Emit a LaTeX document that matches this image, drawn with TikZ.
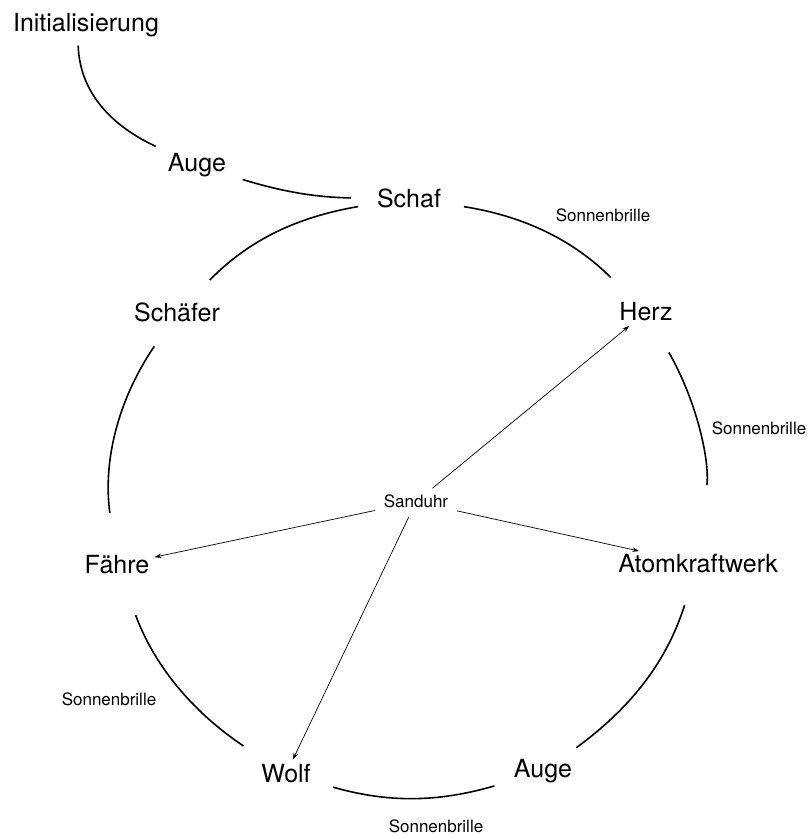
\documentclass[tikz,border=0pt]{standalone}
\usepackage{fontspec}
\setmainfont{TeX Gyre Heros}
\usetikzlibrary{arrows.meta}

\begin{document}
\begin{tikzpicture}[x=1pt, y=1pt,
        state/.style={inner sep=3pt, anchor=base, font=\fontsize{25}{30}\selectfont},
        note/.style={inner sep=0pt, anchor=base, font=\fontsize{17}{20}\selectfont},
        link/.style={line width=1.6pt},
        ptr/.style={-{Stealth[length=7pt,width=4.5pt]}, line width=0.7pt, shorten <=6pt, shorten >=2pt}
    ]
        \useasboundingbox (0,0) rectangle (811,836);

        \node[state] (init) at (86,804) {Initialisierung};
        \node[state] (augeA) at (197,664) {Auge};
        \node[state] (schaf) at (409,628) {Schaf};
        \node[state] (schaefer) at (177,514) {Schäfer};
        \node[state] (herz) at (646,515) {Herz};
        \node[note, inner sep=3pt] (sanduhr) at (416,328) {Sanduhr};
        \node[state] (faehre) at (117,262) {Fähre};
        \node[state] (atom) at (698,263) {Atomkraftwerk};
        \node[state] (wolf) at (286,53) {Wolf};
        \node[state] (augeB) at (543,58) {Auge};

        % labels beside the ring
        \node[note] (lblA) at (603,614) {Sonnenbrille};
        \node[note] (lblB) at (759,401) {Sonnenbrille};
        \node[note] (lblC) at (109,130) {Sonnenbrille};
        \node[note] (lblD) at (436,4) {Sonnenbrille};

        % lead-in and ring
        \draw[link, shorten <=5pt, shorten >=10pt] ([xshift=-8pt]init.south) to[out=-88, in=155] (augeA);
        \draw[link, shorten <=14pt, shorten >=23pt] (augeA) to[bend right=8] (schaf);
        \draw[link, shorten <=28pt, shorten >=16pt] (schaefer) to[bend left=18] (schaf);
        \draw[link, shorten <=20pt, shorten >=31pt] (schaf) to[bend left=18] (herz);
        \draw[link, shorten <=32pt, shorten >=67pt] (herz) to[bend left=18] (atom);
        \draw[link, shorten <=30pt, shorten >=15pt] (atom) to[bend left=18] (augeB);
        \draw[link, shorten <=17pt, shorten >=20pt] (augeB) to[bend left=16] (wolf);
        \draw[link, shorten <=28pt, shorten >=40pt] (wolf) to[bend left=18] (faehre);
        \draw[link, shorten <=40pt, shorten >=25pt] (faehre) to[bend left=21] (schaefer);

        % spokes
        \draw[ptr] (sanduhr) -- (herz);
        \draw[ptr] (sanduhr) -- (atom);
        \draw[ptr] (sanduhr) -- (faehre);
        \draw[ptr] (sanduhr) -- (wolf);
    \end{tikzpicture}
\end{document}
